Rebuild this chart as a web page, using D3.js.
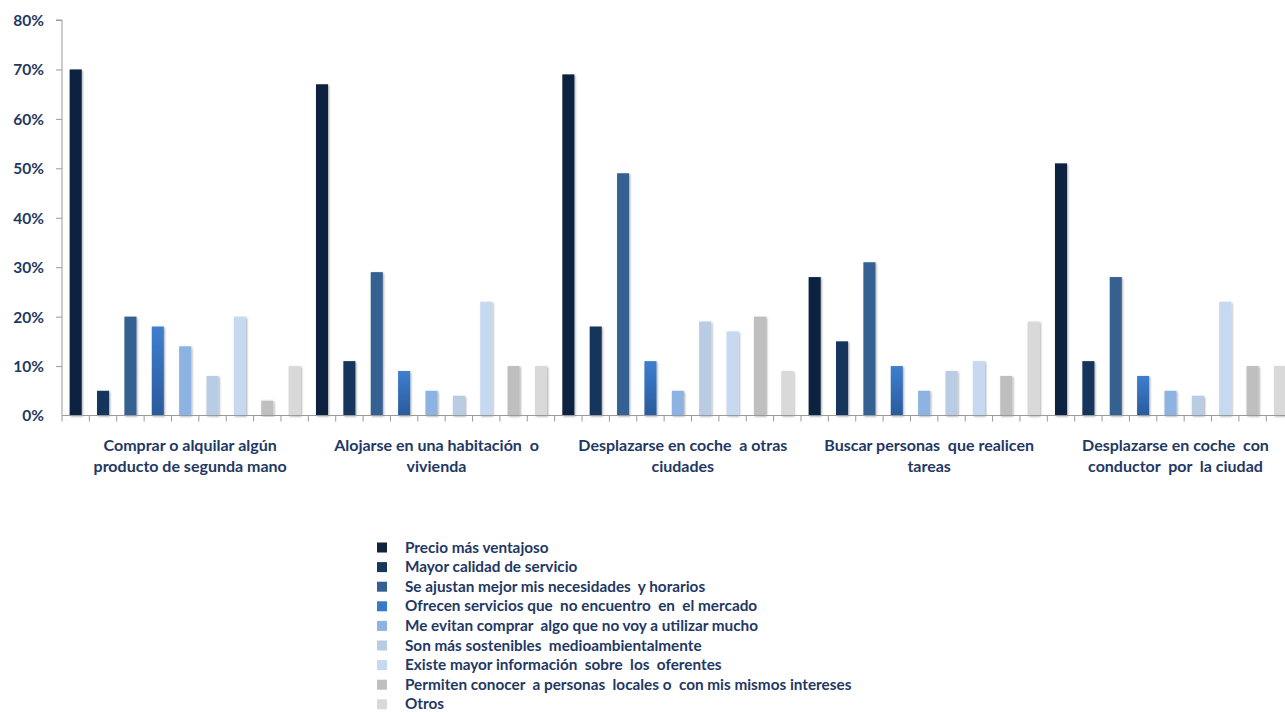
<!DOCTYPE html>
<html><head><meta charset="utf-8">
<script src="https://cdn.jsdelivr.net/npm/d3@7/dist/d3.min.js"></script>
<style>
html,body{margin:0;padding:0;background:#fff;overflow:hidden;}
text{font-family:Lato,"Open Sans",sans-serif;font-weight:bold;fill:#1f3864;}
</style></head>
<body><svg id="c" width="1285" height="712"></svg>
<script>
const categories = [
  ["Comprar o alquilar algún","producto de segunda mano"],
  ["Alojarse en una habitación  o","vivienda"],
  ["Desplazarse en coche  a otras","ciudades"],
  ["Buscar personas  que realicen","tareas"],
  ["Desplazarse en coche  con","conductor  por  la ciudad"]
];
const seriesNames = [
  "Precio más ventajoso",
  "Mayor calidad de servicio",
  "Se ajustan mejor mis necesidades  y horarios",
  "Ofrecen servicios que  no encuentro  en  el mercado",
  "Me evitan comprar  algo que no voy a utilizar mucho",
  "Son más sostenibles  medioambientalmente",
  "Existe mayor información  sobre  los  oferentes",
  "Permiten conocer  a personas  locales o  con mis mismos intereses",
  "Otros"
];
const seriesColors = ["#10243f","#17365d","#366092","#3a78c8","#8db3e2","#b8cce4","#c6d9f1","#bfbfbf","#d9d9d9"];
// values[category][series], in %
const values = [
  [70, 5, 20, 18, 14, 8, 20, 3, 10],
  [67, 11, 29, 9, 5, 4, 23, 10, 10],
  [69, 18, 49, 11, 5, 19, 17, 20, 9],
  [28, 15, 31, 10, 5, 9, 11, 8, 19],
  [51, 11, 28, 8, 5, 4, 23, 10, 10]
];
const yTicks = [0,10,20,30,40,50,60,70,80];

const svg = d3.select("#c");
const x0 = 62, slotW = 27.37, y0 = 415.5, yTop = 20;
const nSlots = categories.length * seriesNames.length;
const x = d3.scaleBand().domain(d3.range(nSlots)).range([x0, x0 + nSlots*slotW]).paddingInner(0.56).paddingOuter(0.28);
const y = d3.scaleLinear().domain([0,80]).range([y0, yTop]);

const defs = svg.append("defs");
const g = defs.append("linearGradient").attr("id","grad3").attr("x1",0).attr("x2",0).attr("y1",0).attr("y2",1);
g.append("stop").attr("offset","0%").attr("stop-color","#3d7fd0");
g.append("stop").attr("offset","100%").attr("stop-color","#2a5a9c");
const f = defs.append("filter").attr("id","sh").attr("x","-30%").attr("y","-10%").attr("width","160%").attr("height","120%");
f.append("feGaussianBlur").attr("in","SourceAlpha").attr("stdDeviation",1).attr("result","b");
f.append("feOffset").attr("in","b").attr("dx",0.5).attr("dy",0.5).attr("result","o");
f.append("feComponentTransfer").attr("in","o").attr("result","o2").append("feFuncA").attr("type","linear").attr("slope",0.35);
const m = f.append("feMerge"); m.append("feMergeNode").attr("in","o2"); m.append("feMergeNode").attr("in","SourceGraphic");

// bars
const flat = [];
values.forEach((row,ci)=>row.forEach((v,si)=>flat.push({ci,si,v,slot:ci*seriesNames.length+si})));
svg.append("g").selectAll("rect").data(flat).join("rect")
  .attr("x",d=>x(d.slot)).attr("width",x.bandwidth())
  .attr("y",d=>y(d.v)).attr("height",d=>y0-y(d.v))
  .attr("fill",d=>d.si===3?"url(#grad3)":seriesColors[d.si])
  .attr("filter","url(#sh)");

// y axis
const yAxis = d3.axisLeft(y).tickValues(yTicks).tickFormat(d=>d+"%").tickSize(6).tickPadding(14);
const ya = svg.append("g").attr("transform",`translate(${x0},0)`).call(yAxis);
ya.select(".domain").attr("stroke","#9a9a9a").attr("d",`M-6,${yTop}H0V${y0}`);
ya.selectAll(".tick line").attr("stroke","#9a9a9a");
ya.selectAll(".tick text").attr("font-size",15.5).attr("font-family","Lato,sans-serif").attr("font-weight","900").attr("fill","#1f3864").attr("dy","0.35em").attr("x",-18);
ya.selectAll(".tick").filter(d=>d===0).select("line").remove();

// x axis: baseline with ticks at slot boundaries
const xa = svg.append("g");
xa.append("line").attr("x1",x0).attr("x2",x0+nSlots*slotW).attr("y1",y0).attr("y2",y0).attr("stroke","#9a9a9a");
xa.selectAll("line.t").data(d3.range(nSlots+1)).join("line").attr("class","t")
  .attr("x1",i=>x0+i*slotW).attr("x2",i=>x0+i*slotW).attr("y1",y0).attr("y2",y0+6).attr("stroke","#9a9a9a");

// category labels
const cl = svg.append("g");
categories.forEach((lines,ci)=>{
  const cx = x0 + (ci*9+4.5)*slotW + 5;
  const t = cl.append("text").attr("text-anchor","middle").attr("font-size",16);
  lines.forEach((ln,li)=>t.append("tspan").attr("x",cx).attr("y",451+li*21).attr("xml:space","preserve").text(ln));
});

// legend
const lg = svg.append("g");
seriesNames.forEach((n,i)=>{
  const yy = 547.5 + i*19.6;
  lg.append("rect").attr("x",377).attr("y",yy-5).attr("width",10).attr("height",10).attr("fill",seriesColors[i]);
  lg.append("text").attr("x",405).attr("y",yy+5).attr("font-size",15.3).attr("xml:space","preserve").text(n);
});
</script></body></html>
